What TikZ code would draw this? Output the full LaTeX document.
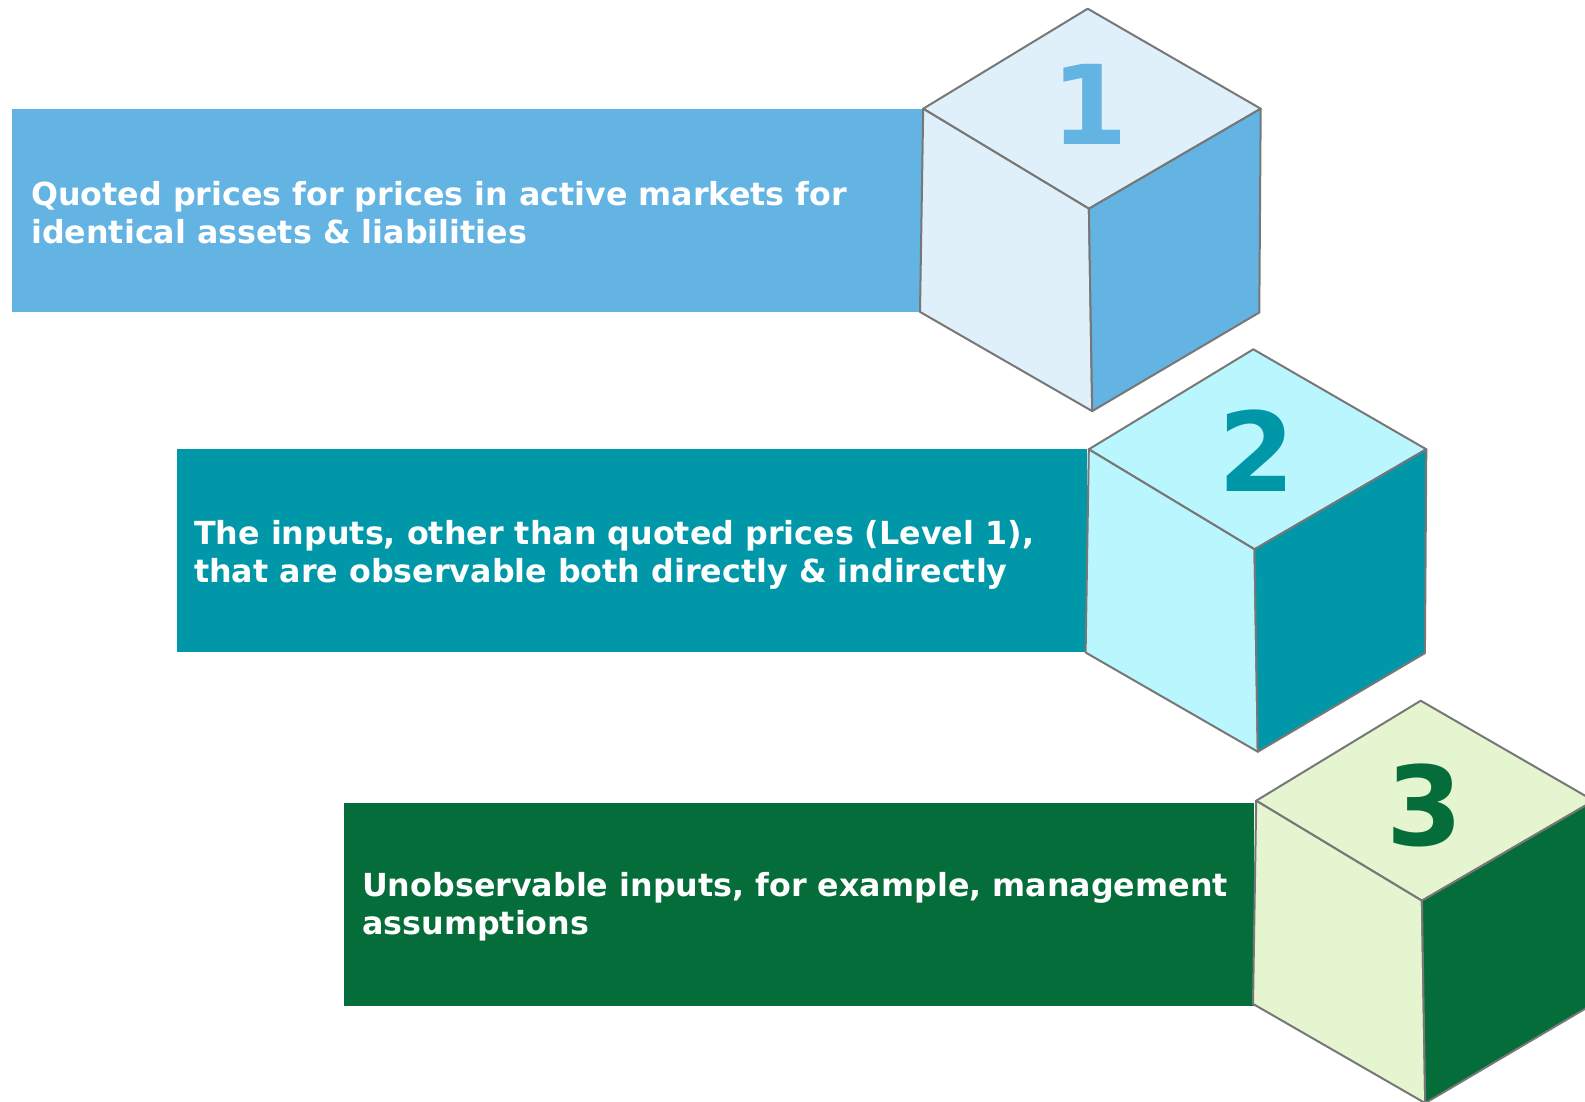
\documentclass[tikz,border=0pt]{standalone}
\usepackage{fontspec}
\setmainfont{DejaVu Sans}
\definecolor{blueD}{HTML}{63B3E3}
\definecolor{blueL}{HTML}{DFF0FA}
\definecolor{tealD}{HTML}{0098A9}
\definecolor{tealL}{HTML}{BAF6FD}
\definecolor{greenD}{HTML}{056D39}
\definecolor{greenL}{HTML}{E5F5D0}
\definecolor{edgegray}{HTML}{777777}
\newcommand\drawlevelcube[3]{%
  \begin{scope}[shift={#1}]
    \filldraw[cubeedge, fill=#2] (0,0) -- (-164.5,100) -- (1.2,200) -- (173,100) -- cycle;
    \filldraw[cubeedge, fill=#2] (-164.5,100) -- (1.2,200) -- (4.5,402.4) -- (-167.7,303.2) -- cycle;
    \filldraw[cubeedge, fill=#3] (1.2,200) -- (173,100) -- (171.6,303.8) -- (4.5,402.4) -- cycle;
  \end{scope}}
\begin{document}
\begin{tikzpicture}[x=1pt,y=-1pt,
  cubeedge/.style={draw=edgegray, line width=2pt, line join=round},
  banner/.style={rectangle, draw=none, inner sep=0pt, anchor=north west, minimum width=910pt, minimum height=203pt},
  lbl/.style={anchor=north west, inner sep=0pt, align=left, text=white, font=\fontsize{31.75}{38}\selectfont\bfseries},
  num/.style={anchor=base, inner sep=0pt, font=\fontsize{110}{110}\selectfont\bfseries}]
\useasboundingbox (0,0) rectangle (1585,1101);
\clip (0,0) rectangle (1585,1101);
% banners
\node[banner, fill=blueD] (b1) at (12,108.3) {};
\node[banner, fill=tealD] (b2) at (177,449) {};
\node[banner, fill=greenD] (b3) at (344,803) {};
% cubes
\drawlevelcube{(1087.7,8.7)}{blueL}{blueD}
\drawlevelcube{(1253.3,349.3)}{tealL}{tealD}
\drawlevelcube{(1420.7,700.7)}{greenL}{greenD}
% numbers
\node[num, text=blueD] (n1) at (1090,144) {1};
\node[num, text=tealD] (n2) at (1257,491) {2};
\node[num, text=greenD] (n3) at (1425,845) {3};
% texts
\node[lbl] (t1) at (31,181) {Quoted prices for prices in active markets for\\identical assets \& liabilities};
\node[lbl] (t2) at (194,520) {The inputs, other than quoted prices (Level 1),\\that are observable both directly \& indirectly};
\node[lbl] (t3) at (362,872.5) {Unobservable inputs, for example, management\\assumptions};
\end{tikzpicture}
\end{document}
